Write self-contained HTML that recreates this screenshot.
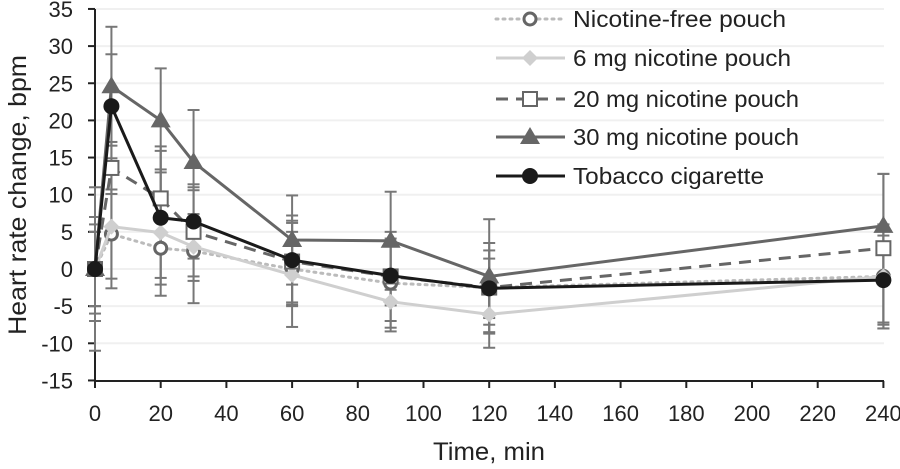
<!DOCTYPE html>
<html><head><meta charset="utf-8"><style>
body{margin:0;background:#fff}
svg{font-family:"Liberation Sans",sans-serif}
</style></head><body>
<svg id="chart" width="900" height="464" viewBox="0 0 900 464"></svg>
<script>
const times=[0,5,20,30,60,90,120,240];
const seriesNames=["Nicotine-free pouch","6 mg nicotine pouch","20 mg nicotine pouch","30 mg nicotine pouch","Tobacco cigarette"];
const nicFree=[0,4.7,2.8,2.4,0,-1.9,-2.5,-1];
const mg6=[0,5.7,4.9,3,-0.8,-4.4,-6.1,-1];
const mg20=[0,13.6,9.5,5,1,-1,-2.5,2.8];
const mg30=[0,24.6,20,14.4,3.9,3.8,-1,5.8];
const tobacco=[0,21.9,6.9,6.4,1.2,-0.9,-2.6,-1.5];
const sdNicFree=[5,6,4,4,5,6,6,7];
const sd6=[5,8.3,8.5,7.6,7,4,4.5,7];
const sd20=[7,3.5,7,6,5.5,6,5,10];
const sd30=[11,8,7,7,6,6.6,7.7,7];
const sdTob=[6,7,9,5,6,4,4,6];
const yTicks=[-15,-10,-5,0,5,10,15,20,25,30,35];
const xTicks=[0,20,40,60,80,100,120,140,160,180,200,220,240];

const NS="http://www.w3.org/2000/svg";
const svg=document.getElementById('chart');
const X=t=>95+t*3.285;
const Y=v=>269-v*7.43;
function mk(tag,attrs,parent){const e=document.createElementNS(NS,tag);for(const k in attrs)e.setAttribute(k,attrs[k]);(parent||svg).appendChild(e);return e;}

yTicks.forEach(v=>{
  if(v!==-15){const g=mk('line',{x1:95,x2:884,y1:Y(v),y2:Y(v),stroke:'#f0f0f0','stroke-width':2});
  
  }
  mk('line',{x1:88,x2:95,y1:Y(v),y2:Y(v),stroke:'#222','stroke-width':2});
  const t=mk('text',{x:73,y:Y(v)+8,'text-anchor':'end','font-size':22,fill:'#222'});
  t.textContent=v;
  
  
});
xTicks.forEach(v=>{
  mk('line',{x1:X(v),x2:X(v),y1:381,y2:388,stroke:'#222','stroke-width':2});
  const t=mk('text',{x:X(v),y:421,'text-anchor':'middle','font-size':22,fill:'#222'});
  t.textContent=v;
  
  
});
mk('line',{x1:95,x2:95,y1:Y(35),y2:381,stroke:'#222','stroke-width':2});
mk('line',{x1:95,x2:884,y1:381,y2:381,stroke:'#222','stroke-width':2});
const xt=mk('text',{x:433,y:460,'font-size':25,fill:'#222',textLength:112,lengthAdjust:'spacingAndGlyphs'});xt.textContent='Time, min';


const yt=mk('text',{x:0,y:0,'font-size':25,fill:'#222',textLength:280,lengthAdjust:'spacingAndGlyphs',transform:'translate(26,335) rotate(-90)'});yt.textContent='Heart rate change, bpm';



const styles=[
 {vals:nicFree,sd:sdNicFree,line:'#bbb',dash:'2 5',w:3,marker:'ocircle'},
 {vals:mg6,sd:sd6,line:'#cfcfcf',dash:'',w:3,marker:'diamond'},
 {vals:mg20,sd:sd20,line:'#666',dash:'12 8',w:3,marker:'osquare'},
 {vals:mg30,sd:sd30,line:'#666',dash:'',w:3,marker:'triangle'},
 {vals:tobacco,sd:sdTob,line:'#1a1a1a',dash:'',w:3,marker:'circle'}
];
styles.forEach(s=>{
  s.vals.forEach((v,i)=>{
    const x=X(times[i]),y1=Y(v+s.sd[i]),y2=Y(v-s.sd[i]);
    const g=mk('g',{stroke:'#777','stroke-width':2});
    
    
    mk('line',{x1:x,x2:x,y1:y1,y2:y2},g);
    mk('line',{x1:x-6,x2:x+6,y1:y1,y2:y1},g);
    mk('line',{x1:x-6,x2:x+6,y1:y2,y2:y2},g);
  });
});
function marker(type,x,y,parent){
  if(type==='ocircle')return mk('circle',{cx:x,cy:y,r:6,fill:'#fff',stroke:'#666','stroke-width':3},parent);
  if(type==='circle')return mk('circle',{cx:x,cy:y,r:8,fill:'#1a1a1a'},parent);
  if(type==='diamond')return mk('polygon',{points:`${x},${y-8} ${x+8},${y} ${x},${y+8} ${x-8},${y}`,fill:'#cfcfcf'},parent);
  if(type==='osquare')return mk('rect',{x:x-7,y:y-7,width:14,height:14,fill:'#fff',stroke:'#666','stroke-width':2},parent);
  return mk('polygon',{points:`${x},${y-10} ${x+10},${y+7} ${x-10},${y+7}`,fill:'#666'},parent);
}
styles.forEach((s,k)=>{
  const g=mk('g',{});
  
  
  const pts=s.vals.map((v,i)=>X(times[i])+','+Y(v)).join(' ');
  mk('polyline',{points:pts,fill:'none',stroke:s.line,'stroke-width':s.w,'stroke-dasharray':s.dash,'stroke-linecap':s.dash==='2 5'?'round':'butt'},g);
  s.vals.forEach((v,i)=>{
    const m=marker(s.marker,X(times[i]),Y(v),g);
    
    
  });
});
const lg=mk('g',{});


const rows=[19,58,99,137,176];
const legendWidths=[213,218,226,226,191];
styles.forEach((s,k)=>{
  const g=mk('g',{},lg);
  
  
  const y=rows[k];
  mk('line',{x1:496,x2:565,y1:y,y2:y,stroke:s.line,'stroke-width':3,'stroke-dasharray':s.dash,'stroke-linecap':s.dash==='2 5'?'round':'butt'},g);
  marker(s.marker,530,y,g);
  const t=mk('text',{x:573,y:y+8,'font-size':23,fill:'#222',textLength:legendWidths[k],lengthAdjust:'spacingAndGlyphs'},g);
  t.textContent=seriesNames[k];
});
</script>
</body></html>
